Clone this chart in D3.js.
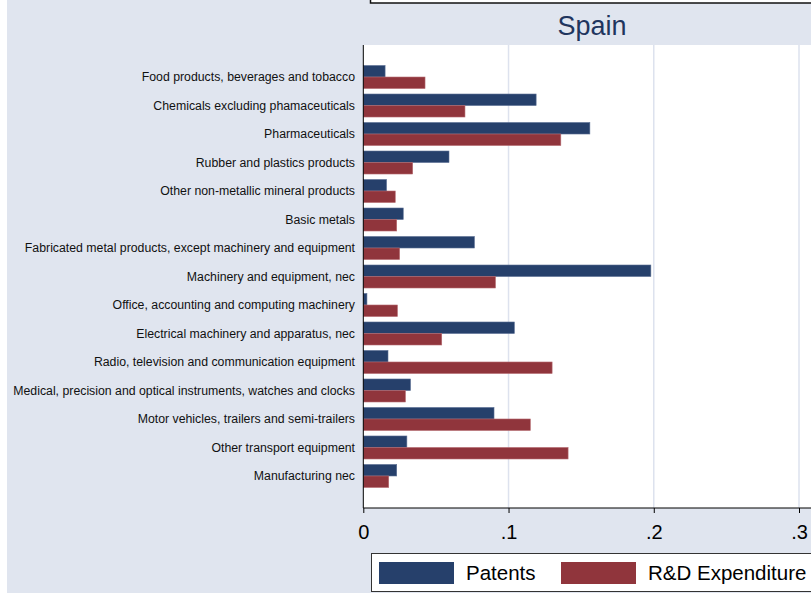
<!DOCTYPE html>
<html>
<head>
<meta charset="utf-8">
<script src="https://cdn.jsdelivr.net/npm/d3@7"></script>
<style>
  body { margin: 0; background: #fff; }
  text { font-family: "Liberation Sans", Arial, sans-serif; }
</style>
</head>
<body>
<div id="chart"></div>
<script>
// Sector names (top to bottom)
const categories = [
    "Food products, beverages and tobacco",
    "Chemicals excluding phamaceuticals",
    "Pharmaceuticals",
    "Rubber and plastics products",
    "Other non-metallic mineral products",
    "Basic metals",
    "Fabricated metal products, except machinery and equipment",
    "Machinery and equipment, nec",
    "Office, accounting and computing machinery",
    "Electrical machinery and apparatus, nec",
    "Radio, television and communication equipment",
    "Medical, precision and optical instruments, watches and clocks",
    "Motor vehicles, trailers and semi-trailers",
    "Other transport equipment",
    "Manufacturing nec"
];
const patents = [0.015, 0.119, 0.156, 0.059, 0.016, 0.0275, 0.0765, 0.198, 0.0025, 0.104, 0.017, 0.0325, 0.090, 0.030, 0.023];
const rdExpenditure = [0.0425, 0.070, 0.136, 0.034, 0.022, 0.023, 0.025, 0.091, 0.0235, 0.054, 0.130, 0.029, 0.115, 0.141, 0.0175];
const seriesNames = ["Patents", "R&D Expenditure"];
const xTicks = [0, 0.1, 0.2, 0.3];
const tickLabels = ["0", ".1", ".2", ".3"];

(function(){
    const width = 811;
    const height = 593;
    const colors = ["#26406b", "#90353c"];
    const bg = "#e0e5ef";

    const svg = d3.select("#chart")
        .append("svg")
        .attr("width", width)
        .attr("height", height);

    // Graph region background
    svg.append("rect")
        .attr("x", 7).attr("y", 0)
        .attr("width", width - 7).attr("height", height)
        .style("fill", bg);

    // Bottom edge of the panel above (cut off)
    svg.append("rect")
        .attr("x", 370.5).attr("y", -10)
        .attr("width", 460).attr("height", 13)
        .style("fill", "#fff")
        .style("stroke", "#111")
        .style("stroke-width", 1.5);

    const plot = { left: 363.3, top: 45, bottom: 508, right: 830 };

    const x = d3.scaleLinear()
        .domain([0, 0.3])
        .range([plot.left, 799]);

    const y = d3.scaleBand()
        .domain(categories)
        .range([plot.top, plot.bottom])
        .paddingInner(0.193)
        .paddingOuter(0.72);

    const ySub = d3.scaleBand()
        .domain(seriesNames)
        .range([0, y.bandwidth()]);

    // Title band
    svg.append("text")
        .attr("x", 592)
        .attr("y", 35)
        .attr("text-anchor", "middle")
        .style("font-size", "27px")
        .style("fill", "#1f355e")
        .text("Spain");

    // Plot area
    svg.append("rect")
        .attr("x", plot.left).attr("y", plot.top)
        .attr("width", plot.right - plot.left)
        .attr("height", plot.bottom - plot.top)
        .style("fill", "#fff");

    // Gridlines
    svg.selectAll(".grid")
        .data(xTicks.slice(1))
        .enter()
        .append("line")
        .attr("x1", d => x(d)).attr("x2", d => x(d))
        .attr("y1", plot.top).attr("y2", plot.bottom)
        .style("stroke", "#dde2ee")
        .style("stroke-width", 1.5);

    // Bars
    const series = [patents, rdExpenditure];
    series.forEach((vals, si) => {
        svg.selectAll(".bar-" + si)
            .data(vals)
            .enter()
            .append("rect")
            .attr("x", x(0))
            .attr("y", (d, i) => y(categories[i]) + ySub(seriesNames[si]))
            .attr("width", d => x(d) - x(0))
            .attr("height", ySub.bandwidth())
            .style("fill", colors[si])
            .style("stroke", si === 0 ? "#5a6e93" : "#b56a70")
            .style("stroke-width", 0.6);
    });

    // Category labels
    svg.selectAll(".cat")
        .data(categories)
        .enter()
        .append("text")
        .attr("x", 355)
        .attr("y", d => y(d) + y.bandwidth() / 2)
        .attr("dy", "0.35em")
        .attr("text-anchor", "end")
        .style("font-size", "12.3px")
        .style("fill", "#111")
        .text(d => d);

    // Y axis line
    svg.append("line")
        .attr("x1", plot.left).attr("x2", plot.left)
        .attr("y1", plot.top).attr("y2", plot.bottom)
        .style("stroke", "#000").style("stroke-width", 1);

    // X axis
    const xAxis = d3.axisBottom(x)
        .tickValues(xTicks)
        .tickFormat((d, i) => tickLabels[i])
        .tickSize(5)
        .tickPadding(12)
        .tickSizeOuter(0);

    const ax = svg.append("g")
        .attr("transform", `translate(0,${plot.bottom})`)
        .call(xAxis);
    ax.select(".domain")
        .attr("d", `M${plot.left},0H${width + 5}`)
        .style("stroke", "#000");
    ax.selectAll(".tick line").style("stroke", "#000");
    ax.selectAll(".tick text")
        .style("font-size", "20px")
        .style("font-family", "'Liberation Sans', Arial, sans-serif")
        .style("fill", "#000");

    // Legend
    const legend = svg.append("g");
    legend.append("rect")
        .attr("x", 371.5).attr("y", 553.5)
        .attr("width", 460).attr("height", 38)
        .style("fill", "#fff")
        .style("stroke", "#333")
        .style("stroke-width", 1);

    const legendX = [379, 561];
    seriesNames.forEach((name, i) => {
        legend.append("rect")
            .attr("x", legendX[i]).attr("y", 562)
            .attr("width", 75).attr("height", 22)
            .style("fill", colors[i]);
        legend.append("text")
            .attr("x", legendX[i] + 87)
            .attr("y", 580)
            .style("font-size", "20.5px")
            .style("fill", "#000")
            .text(name);
    });
})();
</script>
</body>
</html>
